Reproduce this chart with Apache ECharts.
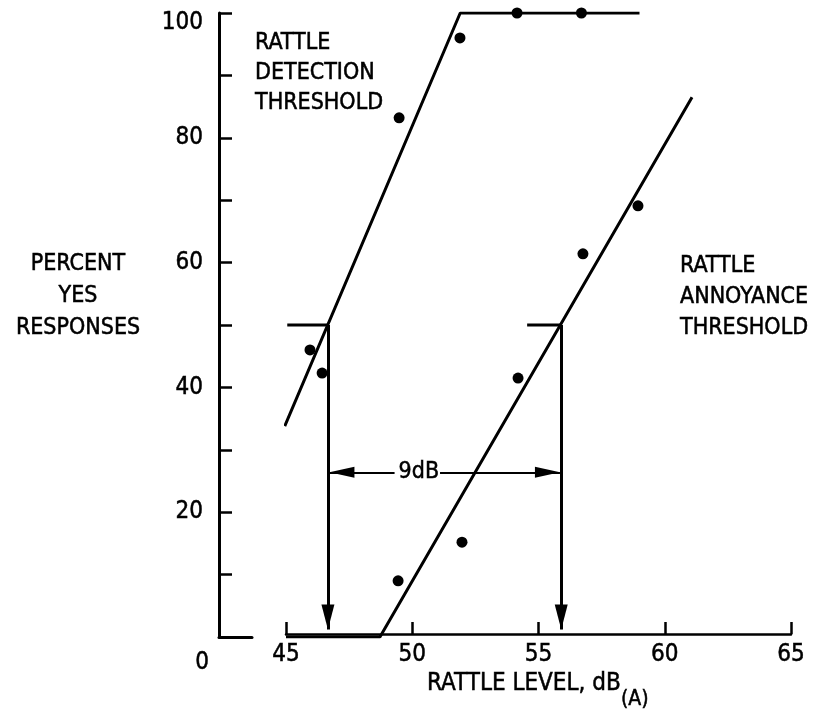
<!DOCTYPE html>
<html>
<head>
<meta charset="utf-8">
<script src="https://cdn.jsdelivr.net/npm/echarts@6/dist/echarts.min.js"></script>
<style>
  html, body { margin: 0; background: #fff; }
  #chart { width: 821px; height: 710px; }
</style>
</head>
<body>
<div id="chart"></div>
<script>
// values (x: rattle level dB(A), y: percent yes)
const detectionPoints = [[45.95, 46.0], [46.43, 42.3], [49.48, 83.2], [51.89, 96.0], [54.15, 100], [56.7, 100]];
const annoyancePoints = [[49.44, 9.0], [51.97, 15.2], [54.19, 41.5], [56.76, 61.4], [58.94, 69.1]];
const detectionFit = [[44.95, 33.8], [51.9, 100], [59.0, 100]];
const annoyanceFit = [[45, 0], [48.72, 0], [61.08, 86.5]];
// 50% markers and the drop arrows to the level axis
const detectionMid = [[45.05, 50], [46.66, 50]];
const annoyanceMid = [[54.55, 50], [55.9, 50]];
const arrowTipY = 1.2;
// 9 dB spread arrow, split round its label
const spreadY = 26.4;
const spreadLeft = [46.72, 49.3];
const spreadRight = [51.1, 55.85];
const spreadLabel = '9dB';

const font = '"Liberation Sans Narrow", "DejaVu Sans Condensed", "Arial Narrow", sans-serif';
const black = '#000';
const ink = 0.5; // a little extra stroke so the type looks like the printed original

const chart = echarts.init(document.getElementById('chart'));

// arrow head put on one end of a markLine, tip sitting on the end point
const head = (coord, w, h) => ({
  coord: coord, symbol: 'triangle', symbolSize: [w, h], symbolOffset: [0, h / 2]
});
const bare = (coord) => ({ coord: coord, symbol: 'none' });

const markLineBase = (width, data, label) => ({
  silent: true,
  animation: false,
  lineStyle: { color: black, width: width, type: 'solid' },
  itemStyle: { color: black },
  emphasis: { disabled: true },
  label: label || { show: false },
  data: data
});

const dropArrow = (x) => markLineBase(3, [[bare([x, 50]), head([x, arrowTipY], 13, 25)]]);

const textStyle = (text, size, extra) => Object.assign({
  text: text, fontSize: size, fontFamily: font, fill: black, stroke: black, lineWidth: ink,
  align: 'left', verticalAlign: 'top'
}, extra || {});

const labelFont = { color: black, fontSize: 24, fontFamily: font, textBorderColor: black, textBorderWidth: ink };

const option = {
  animation: false,
  grid: [
    { left: 219, top: 13, width: 33, bottom: 73, containLabel: false, outerBoundsMode: 'none' },
    { left: 286, right: 30, top: 13, bottom: 73, containLabel: false, outerBoundsMode: 'none' }
  ],
  xAxis: [
    {
      gridIndex: 0, type: 'value', min: 0, max: 1, interval: 1,
      axisLine: { lineStyle: { color: black, width: 3 } },
      axisTick: { show: false },
      splitLine: { show: false },
      axisLabel: Object.assign({
        formatter: v => (v === 0 ? '0' : ''),
        align: 'right', padding: [0, 10, 0, 0], margin: 14
      }, labelFont)
    },
    {
      gridIndex: 1, type: 'value', min: 45, max: 65, interval: 5, offset: -3,
      axisLine: { onZero: false, lineStyle: { color: black, width: 2.5 } },
      axisTick: { inside: true, length: 12, lineStyle: { color: black, width: 2.5 } },
      splitLine: { show: false },
      axisLabel: Object.assign({ margin: 9 }, labelFont)
    }
  ],
  yAxis: [
    {
      gridIndex: 0, type: 'value', min: 0, max: 100, interval: 10,
      axisLine: { show: true, lineStyle: { color: black, width: 3 } },
      axisTick: { show: true, inside: true, length: 13, lineStyle: { color: black, width: 2.5 } },
      splitLine: { show: false },
      axisLabel: Object.assign({
        // the top label sits a little below its tick in the original
        formatter: v => (v === 100 ? '{top|100}' : (v > 0 && v % 20 === 0 ? String(v) : '')),
        margin: 16,
        rich: { top: Object.assign({ padding: [20, 0, 0, 0] }, labelFont) }
      }, labelFont)
    },
    { gridIndex: 1, type: 'value', min: 0, max: 100, show: false }
  ],
  graphic: [
    { type: 'text', x: 78, y: 248, style: textStyle('PERCENT\nYES\nRESPONSES', 23, { align: 'center', lineHeight: 32 }) },
    { type: 'text', x: 255, y: 28, style: textStyle('RATTLE\nDETECTION\nTHRESHOLD', 23, { lineHeight: 30 }) },
    { type: 'text', x: 680, y: 251, style: textStyle('RATTLE\nANNOYANCE\nTHRESHOLD', 23, { lineHeight: 31 }) },
    // level axis title with its (A) subscript
    { type: 'text', x: 427, y: 684, style: textStyle('RATTLE LEVEL, dB', 24, { verticalAlign: 'middle' }) },
    { type: 'text', x: 621, y: 700, style: textStyle('(A)', 21, { verticalAlign: 'middle' }) }
  ],
  series: [
    {
      name: 'detection fit', type: 'line', xAxisIndex: 1, yAxisIndex: 1,
      data: detectionFit, symbol: 'none', silent: true,
      lineStyle: { color: black, width: 3 }
    },
    {
      name: 'annoyance fit', type: 'line', xAxisIndex: 1, yAxisIndex: 1,
      data: annoyanceFit, symbol: 'none', silent: true,
      lineStyle: { color: black, width: 3 }
    },
    {
      name: 'detection', type: 'scatter', xAxisIndex: 1, yAxisIndex: 1,
      data: detectionPoints, symbolSize: 11, itemStyle: { color: black, opacity: 1 }
    },
    {
      name: 'annoyance', type: 'scatter', xAxisIndex: 1, yAxisIndex: 1,
      data: annoyancePoints, symbolSize: 11, itemStyle: { color: black, opacity: 1 }
    },
    {
      name: 'detection 50%', type: 'line', xAxisIndex: 1, yAxisIndex: 1,
      data: detectionMid, symbol: 'none', silent: true,
      lineStyle: { color: black, width: 3 },
      markLine: dropArrow(detectionMid[1][0])
    },
    {
      name: 'annoyance 50%', type: 'line', xAxisIndex: 1, yAxisIndex: 1,
      data: annoyanceMid, symbol: 'none', silent: true,
      lineStyle: { color: black, width: 3 },
      markLine: dropArrow(annoyanceMid[1][0])
    },
    {
      name: 'spread left', type: 'line', xAxisIndex: 1, yAxisIndex: 1,
      data: [], symbol: 'none', silent: true,
      markLine: markLineBase(2,
        [[head([spreadLeft[0], spreadY], 11, 25), bare([spreadLeft[1], spreadY])]],
        Object.assign({ show: true, position: 'end', distance: 4, formatter: spreadLabel }, labelFont, { fontSize: 23 }))
    },
    {
      name: 'spread right', type: 'line', xAxisIndex: 1, yAxisIndex: 1,
      data: [], symbol: 'none', silent: true,
      markLine: markLineBase(2,
        [[bare([spreadRight[0], spreadY]), head([spreadRight[1], spreadY], 11, 25)]])
    }
  ]
};

chart.setOption(option);
</script>
</body>
</html>
